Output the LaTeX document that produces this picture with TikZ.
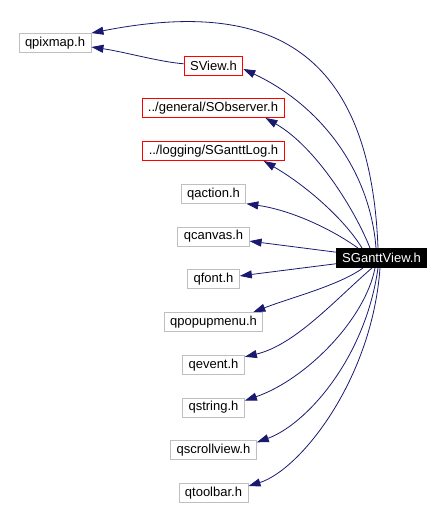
\documentclass[tikz,border=0pt]{standalone}
\usepackage{fontspec}
\setmainfont{Liberation Sans}
\usepackage{tikz}
\usetikzlibrary{arrows.meta}
\definecolor{edgeblue}{HTML}{191970}
\definecolor{boxgray}{HTML}{BFBFBF}

\begin{document}
\begin{tikzpicture}[x=1pt,y=-1pt,
		file/.style={draw=boxgray,line width=0.9pt,fill=white,inner xsep=6pt,inner ysep=0pt,
			minimum height=19pt,font=\fontsize{13}{15}\selectfont},
		local/.style={file,draw=red},
		mainfile/.style={file,draw=black,fill=black,text=white},
		dep/.style={edgeblue,line width=0.8pt,-{Triangle[length=12pt,width=8pt]}}]
				\useasboundingbox (0,0) rectangle (444,508);
				% the header itself
				\node[mainfile] (ganttview) at (381.5,258) {SGanttView.h};
				% the headers it pulls in, one column
				\node[file] (qpixmap) at (55,43) {qpixmap.h};
				\node[local] (sview) at (213.5,66) {SView.h};
				\node[local] (sobserver) at (213,108) {../general/SObserver.h};
				\node[local] (sganttlog) at (213.5,151) {../logging/SGanttLog.h};
				\foreach \name/\k in {qaction/3,qcanvas/4,qfont/5,qpopupmenu/6,qevent/7,qstring/8,qscrollview/9,qtoolbar/10}
					\node[file] (\name) at (213.5,{65.5+42.75*\k}) {\name.h};
				% upward includes
				\draw[dep] ([xshift=-3.5pt]ganttview.north) .. controls (370,40) and (260,0) .. (qpixmap.north east);
				\draw[dep] ([xshift=-5.5pt]ganttview.north) .. controls (370,170) and (320,105) .. ([yshift=-3pt]sview.east);
				\draw[dep] (sview) .. controls (160,62) and (125,52) .. ([yshift=-4pt]qpixmap.east);
				\draw[dep] ([xshift=-11.5pt]ganttview.north) .. controls (355,210) and (316,147) .. ([xshift=-19pt]sobserver.south east);
				\draw[dep] ([xshift=-19.5pt]ganttview.north) .. controls (345,220) and (307,186) .. ([xshift=-21pt]sganttlog.south east);
				\draw[dep] ([xshift=-23.5pt]ganttview.north) .. controls (330,228) and (290,210) .. (qaction.south east);
				% nearly straight ones
				\draw[dep] (ganttview) -- (qcanvas);
				\draw[dep] (ganttview) -- (qfont);
				% downward includes
				\draw[dep] ([xshift=-18.5pt]ganttview.south) .. controls (340,285) and (290,298) .. ([xshift=-10pt]qpopupmenu.north east);
				\draw[dep] ([xshift=-9.5pt]ganttview.south) .. controls (335,300) and (295,345) .. ([yshift=-2pt]qevent.north east);
				\draw[dep] ([xshift=-6.5pt]ganttview.south) .. controls (365,320) and (305,380) .. ([yshift=-3pt]qstring.north east);
				\draw[dep] ([xshift=-3.5pt]ganttview.south) .. controls (365,360) and (305,425) .. ([yshift=-2pt]qscrollview.north east);
				\draw[dep] ([xshift=-1.5pt]ganttview.south) .. controls (372,380) and (300,470) .. ([yshift=-3pt]qtoolbar.north east);
			\end{tikzpicture}
\end{document}
